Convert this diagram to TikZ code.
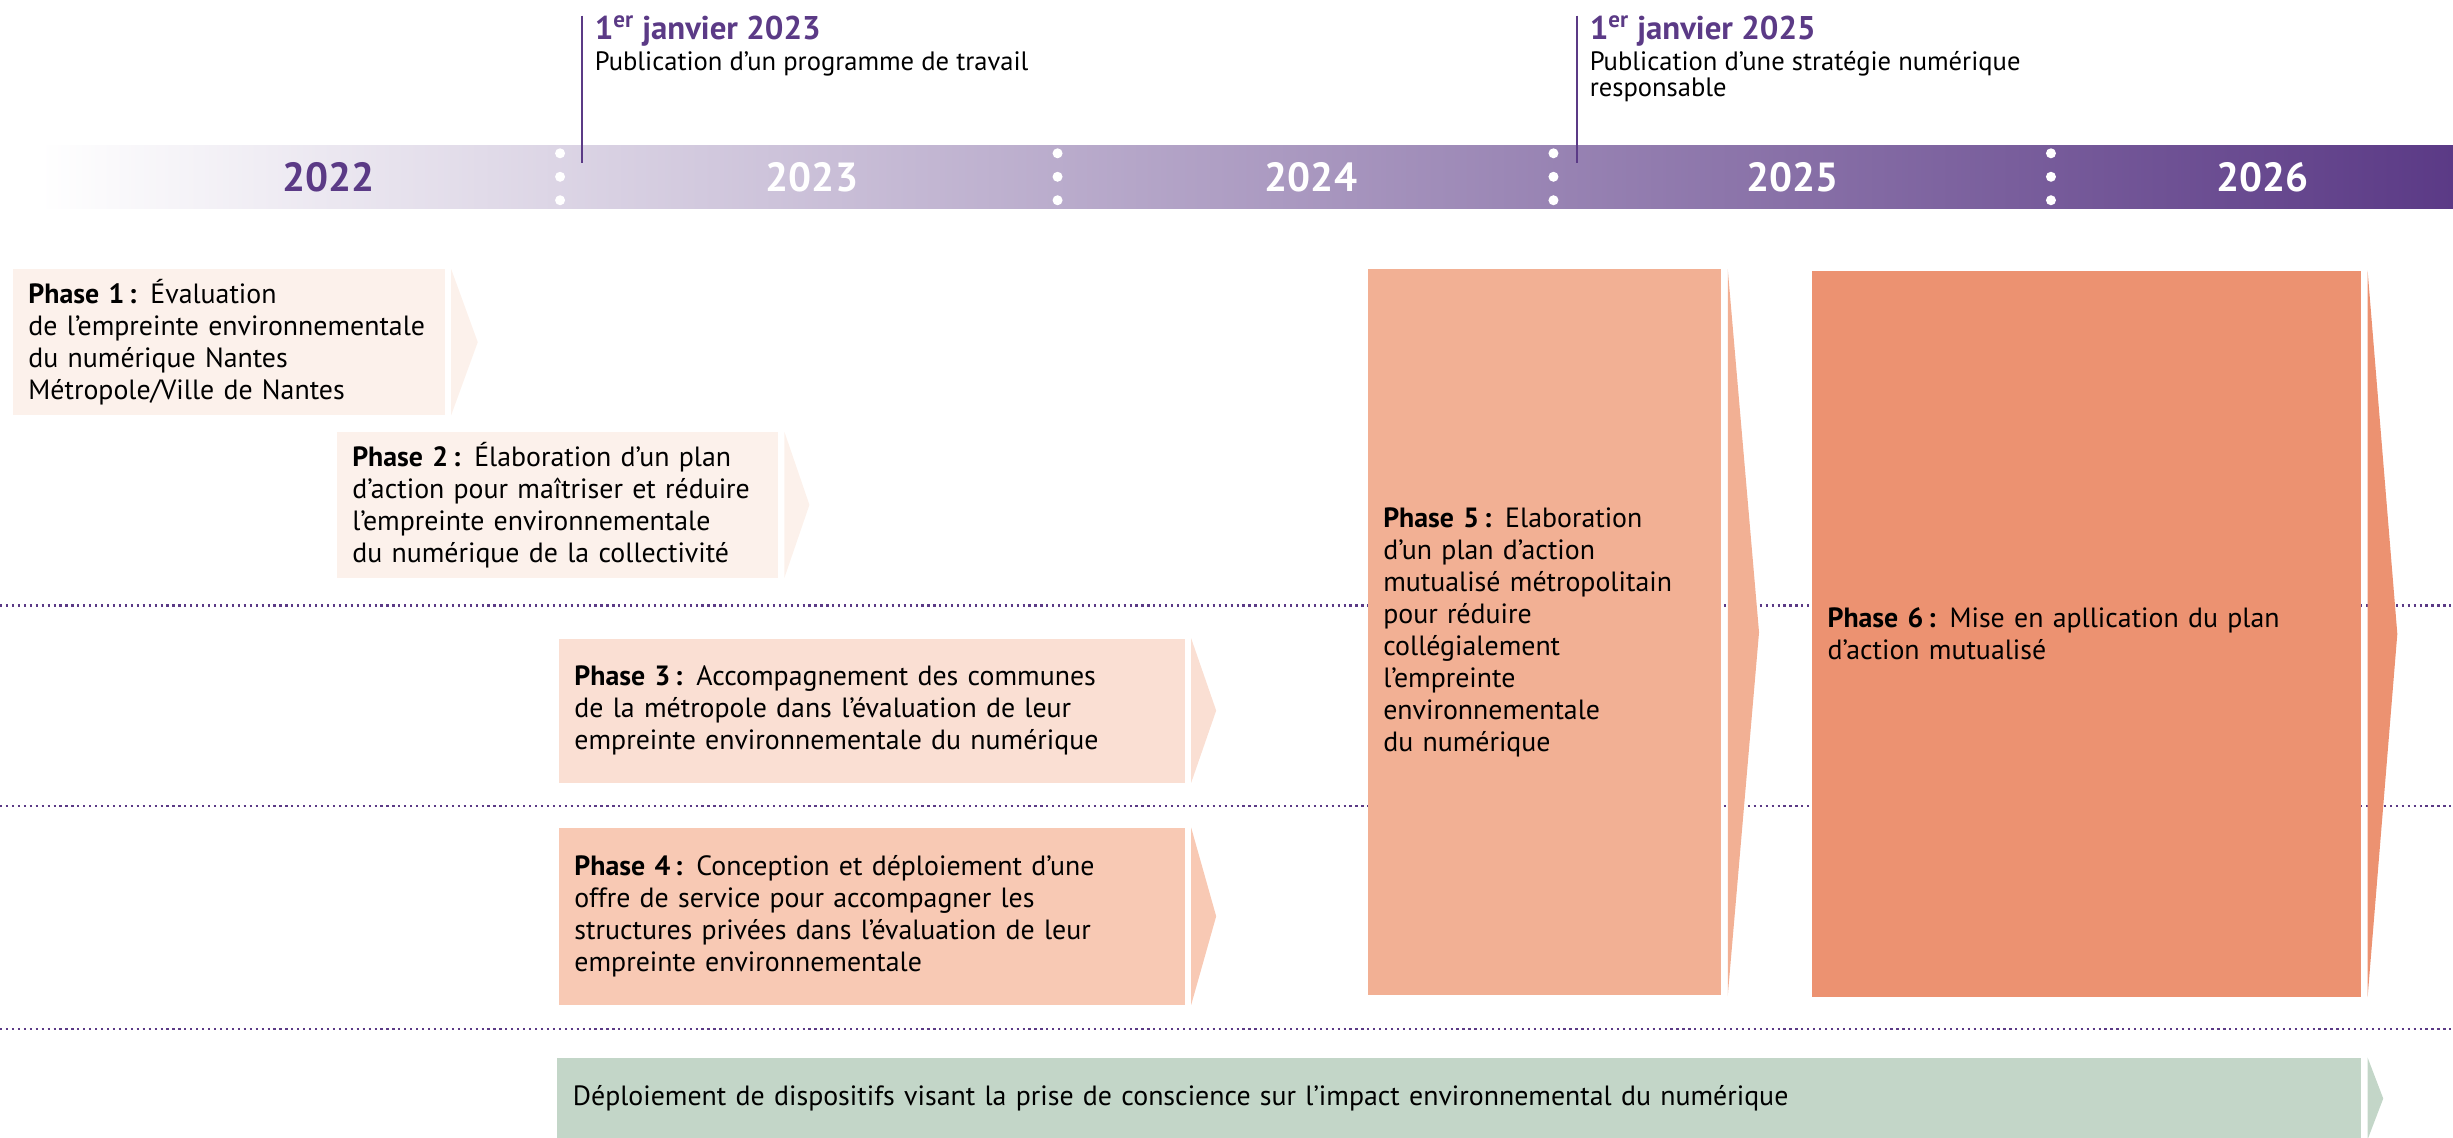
\documentclass[tikz,border=0pt]{standalone}
\usepackage{fontspec}
\setmainfont{PT Sans}
\usepackage{tikz}
\usetikzlibrary{positioning}

\definecolor{barpurple}{HTML}{5B3A86}
\definecolor{ph12}{HTML}{FCF1EB}
\definecolor{ph3}{HTML}{FADFD3}
\definecolor{ph4}{HTML}{F8C9B4}
\definecolor{ph5}{HTML}{F2B094}
\definecolor{ph6}{HTML}{EC9271}
\definecolor{deploy}{HTML}{C3D6C8}

\begin{document}
\begin{tikzpicture}[
    x=1pt, y=-1pt,
    phase/.style={rectangle, anchor=north west, inner xsep=10pt, inner ysep=0pt, align=left, font=\fontsize{17.8}{20.5}\selectfont},
    year/.style={font=\fontsize{26}{30}\selectfont\bfseries, text=white},
    mstitle/.style={anchor=base west, inner sep=0pt, font=\fontsize{21}{24}\selectfont\bfseries, text=barpurple},
    msdesc/.style={anchor=base west, inner sep=0pt, align=left, font=\fontsize{17}{17}\selectfont},
    msline/.style={barpurple, line width=1.6pt},
    sep/.style={barpurple, line width=1.4pt, dash pattern=on 1.4pt off 2.4pt}
]
\useasboundingbox (0,0) rectangle (1568,727.4);

% timeline bar
\shade[left color=white, right color=barpurple] (25,93) rectangle (1568,133);
\foreach \x in {358,676,993,1311}
    \foreach \y in {98,113,128}
        \fill[white] (\x,\y) circle (3.2pt);
\node[year, text=barpurple] (y22) at (210,113) {2022};
\node[year] (y23) at (519,113) {2023};
\node[year] (y24) at (838,113) {2024};
\node[year] (y25) at (1146,113) {2025};
\node[year] (y26) at (1446,113) {2026};

% milestones
\coordinate (m1top) at (372,10);
\coordinate (m1bot) at (372,104);
\coordinate (m2top) at (1008,10);
\coordinate (m2bot) at (1008,104);
\draw[msline] (m1top) -- (m1bot);
\draw[msline] (m2top) -- (m2bot);
\node[mstitle] (m1t) at (380,25) {1\textsuperscript{er} janvier 2023};
\node[msdesc] (m1d) at (380,45) {Publication d’un programme de travail};
\node[mstitle] (m2t) at (1016,25) {1\textsuperscript{er} janvier 2025};
\node[msdesc] (m2d) at (1016,62) {Publication d’une stratégie numérique\\responsable};

% separators
\foreach \y in {387,515,658}
    \draw[sep] (0,\y) -- (1568,\y);

% phases
\node[phase, fill=ph12, text width=256pt, minimum height=93pt] (p1) at (8,172)
    {\textbf{Phase 1\,:} Évaluation\\de l’empreinte environnementale\\du numérique Nantes\\Métropole/Ville de Nantes};
\node[phase, fill=ph12, text width=262pt, minimum height=93pt] (p2) at (215,276)
    {\textbf{Phase 2\,:} Élaboration d’un plan\\d’action pour maîtriser et réduire\\l’empreinte environnementale\\du numérique de la collectivité};
\node[phase, fill=ph3, text width=380pt, minimum height=92pt] (p3) at (357,408)
    {\textbf{Phase 3\,:} Accompagnement des communes\\de la métropole dans l’évaluation de leur\\empreinte environnementale du numérique};
\node[phase, fill=ph4, text width=380pt, minimum height=113pt] (p4) at (357,529)
    {\textbf{Phase 4\,:} Conception et déploiement d’une\\offre de service pour accompagner les\\structures privées dans l’évaluation de leur\\empreinte environnementale};
\node[phase, fill=ph5, text width=206pt, minimum height=464pt] (p5) at (874,172)
    {\textbf{Phase 5\,:} Elaboration\\d’un plan d’action\\mutualisé métropolitain\\pour réduire\\collégialement\\l’empreinte\\environnementale\\du numérique};
\node[phase, fill=ph6, text width=331pt, minimum height=464pt] (p6) at (1158,173)
    {\textbf{Phase 6\,:} Mise en apllication du plan\\d’action mutualisé};
\node[phase, fill=deploy, text width=1133pt, minimum height=52pt] (dep) at (356,676)
    {Déploiement de dispositifs visant la prise de conscience sur l’impact environnemental du numérique};

% chevrons
\foreach \n/\c/\l in {p1/ph12/21, p2/ph12/20, p3/ph3/20, p4/ph4/20, p5/ph5/24, p6/ph6/23, dep/deploy/14}
    \fill[\c] ([xshift=4pt]\n.north east) -- ([xshift=\l pt]\n.east) -- ([xshift=4pt]\n.south east) -- cycle;
\end{tikzpicture}
\end{document}
